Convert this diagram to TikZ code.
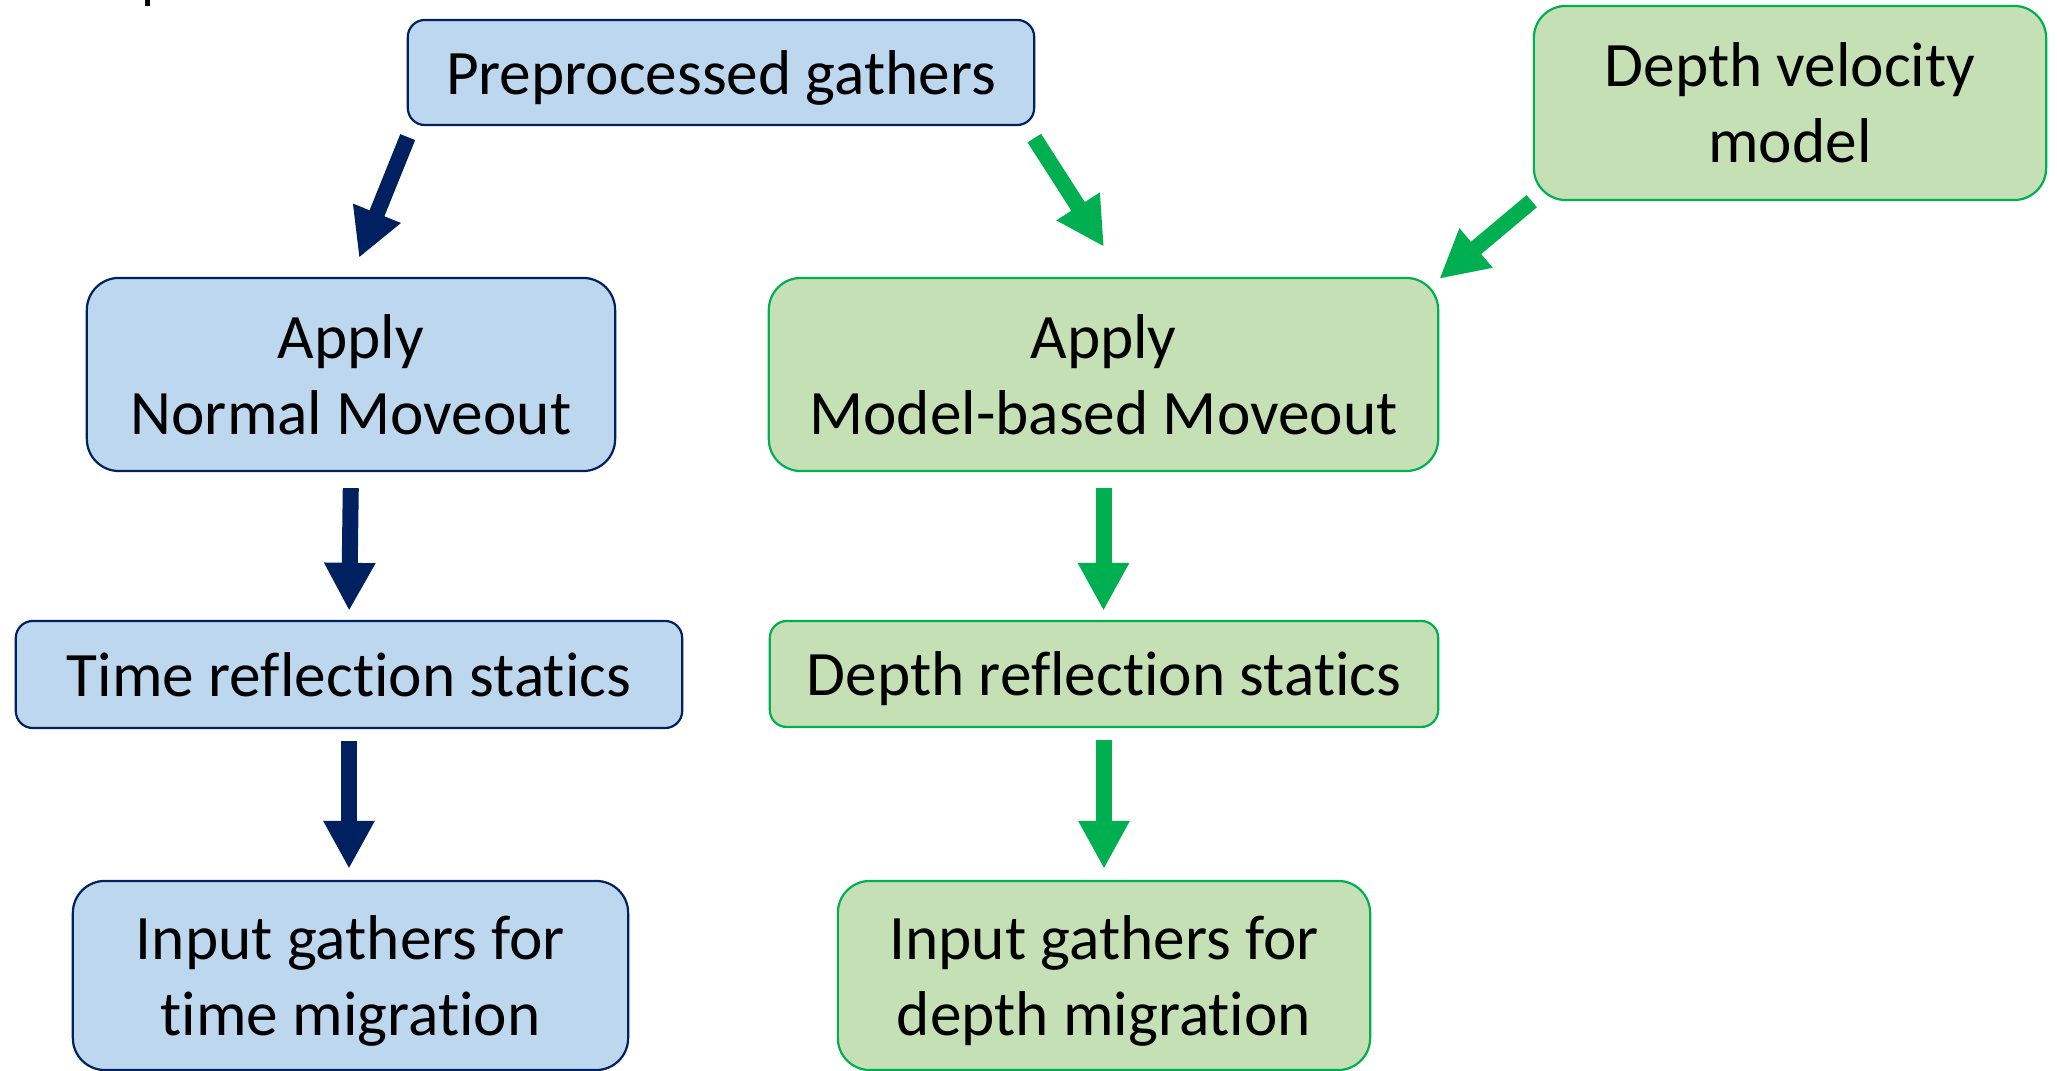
\documentclass[tikz,border=0pt]{standalone}
\usepackage{fontspec}
\setmainfont{Carlito}[Ligatures={NoCommon}]
\usetikzlibrary{arrows.meta,calc}
\definecolor{navy}{HTML}{002060}
\definecolor{bluefill}{HTML}{BDD7EE}
\definecolor{grn}{HTML}{00B050}
\definecolor{grnfill}{HTML}{C5E0B4}
\tikzset{
  box/.style={draw, line width=0.022cm, align=center, inner sep=0pt, text depth=0pt,
    font=\fontsize{18}{21.6}\selectfont},
  bluebox/.style={box, draw=navy, fill=bluefill},
  greenbox/.style={box, draw=grn, fill=grnfill},
  bigbox/.style={rounded corners=0.32cm},
  smallbox/.style={rounded corners=0.17cm},
  fat/.style={line width=0.16cm, -{Triangle[width=0.48cm,length=0.48cm]}},
  bluearrow/.style={fat, draw=navy, fill=navy},
  greenarrow/.style={fat, draw=grn, fill=grn},
}
\begin{document}
\begin{tikzpicture}[x=0.01cm,y=-0.01cm]
\useasboundingbox (0,0) rectangle (2057,1071);
\fill (145,0) rectangle (150,6);

\node[bluebox, smallbox, minimum width=6.26cm, minimum height=1.05cm] (pre) at (721,72.5) {Preprocessed gathers};
\node[greenbox, bigbox, minimum width=5.12cm, minimum height=1.94cm] (dvm) at (1790,103) {Depth velocity\\model};
\node[bluebox, bigbox, minimum width=5.28cm, minimum height=1.93cm] (nmo) at (351,374.5) {Apply\\Normal Moveout};
\node[greenbox, bigbox, minimum width=6.69cm, minimum height=1.93cm] (mbm) at (1103.5,374.5) {Apply\\Model-based Moveout};
\node[bluebox, smallbox, minimum width=6.66cm, minimum height=1.07cm] (trs) at (349,674.5) {Time reflection statics};
\node[greenbox, smallbox, minimum width=6.68cm, minimum height=1.06cm] (drs) at (1104,674) {Depth reflection statics};
\node[bluebox, bigbox, minimum width=5.55cm, minimum height=1.89cm] (itm) at (350.5,975.5) {Input gathers for\\time migration};
\node[greenbox, bigbox, minimum width=5.32cm, minimum height=1.89cm] (idm) at (1104,975.5) {Input gathers for\\depth migration};

\coordinate (a1s) at ($(pre.south west)+(1,11)$);
\coordinate (a1e) at ($(nmo.north)+(8,-19)$);
\coordinate (a2s) at ($(pre.south east)+(-1,12)$);
\coordinate (a2e) at ($(mbm.north)+(0.5,-30)$);
\coordinate (a3s) at ($(dvm.south west)+(-1,0)$);
\coordinate (a3e) at ($(mbm.north east)+(0,2)$);

\draw[bluearrow] (a1s) -- (a1e);
\draw[greenarrow] (a2s) -- (a2e);
\draw[greenarrow] (a3s) -- (a3e);

\draw[bluearrow, shorten <=0.16cm, shorten >=0.09cm] (nmo.south) -- (trs.north);
\draw[greenarrow, shorten <=0.16cm, shorten >=0.09cm] (mbm.south) -- (mbm.south |- drs.north);
\draw[bluearrow, shorten <=0.12cm, shorten >=0.11cm] (trs.south) -- (trs.south |- itm.north);
\draw[greenarrow, shorten <=0.12cm, shorten >=0.11cm] (drs.south) -- (idm.north);
\end{tikzpicture}
\end{document}
